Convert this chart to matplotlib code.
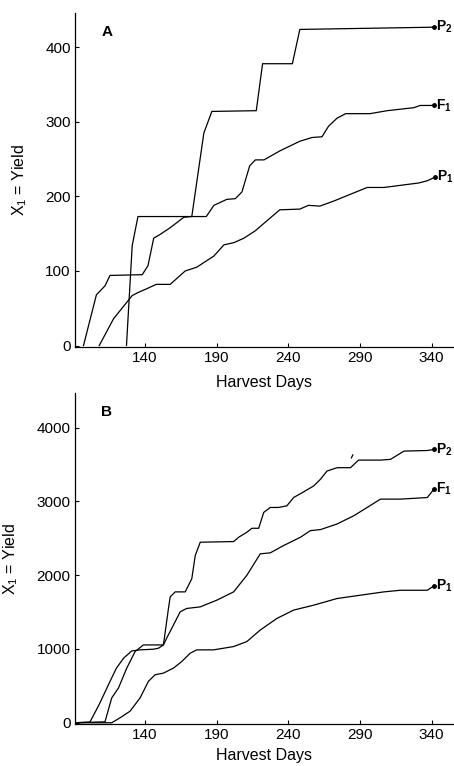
import matplotlib.pyplot as plt
import numpy as np

plt.rcParams['font.family'] = ['Liberation Sans', 'DejaVu Sans']
plt.rcParams['mathtext.fontset'] = 'custom'
plt.rcParams['mathtext.rm'] = 'Liberation Sans'
plt.rcParams['mathtext.bf'] = 'Liberation Sans:bold'

# panel A - yield (X1), harvest days
a_f1_day = [97, 106, 112, 115.5, 138, 142, 146, 150.5, 157.5, 167, 172, 182.7, 188, 197, 203,
            207.6, 213, 217, 223, 234, 248, 256.5, 263.5, 268, 274, 280, 297, 309, 327.6, 332, 341.6]
a_f1_val = [0, 68, 80, 94, 95, 107, 144, 149, 158, 172, 173, 173, 188, 196, 197,
            206, 241, 249, 249, 261, 274, 279, 280, 294, 305, 311, 311, 315, 319, 322, 322]

a_p2_day = [127, 131, 135, 172.6, 181, 186.6, 217.6, 222, 242.8, 248, 341.6]
a_p2_val = [0, 134, 173, 173, 285, 314, 315, 378, 378, 424, 427]

a_p1_day = [108, 118, 131, 135, 141, 147.7, 157.5, 168, 176, 188, 195, 202, 209, 217, 223,
            234, 248, 254, 262, 272, 295, 306.7, 331, 337, 342.5]
a_p1_val = [0, 36, 67, 71, 76, 82, 82, 100, 105, 120, 135, 138, 144, 154, 164,
            182, 183, 188, 187, 194, 212, 212, 218, 221, 226]

# panel B
b_f1_day = [91, 101.5, 108, 115.5, 120, 125, 130.7, 136.5, 145.8, 149.3, 152.8, 155, 159.8, 164.5, 169,
            178.5, 190, 201.8, 211, 220.4, 227.4, 236.7, 248.4, 255.4, 262.4, 274, 285.7, 295,
            304.3, 318.3, 337, 341.6]
b_f1_val = [0, 10, 250, 561, 741, 876, 974, 988, 997, 1010, 1055, 1145, 1325, 1504, 1549,
            1571, 1661, 1774, 1998, 2290, 2303, 2402, 2514, 2604, 2618, 2694, 2806, 2918,
            3031, 3031, 3053, 3165]

b_p2_day = [91, 112, 116.7, 121.4, 127.2, 133, 138.8, 152.8, 156.3, 157.5, 161, 168, 172.6, 175,
            178.5, 201.8, 205.3, 211, 214.6, 219.3, 222.8, 227.4, 233.2, 239, 243.7, 250.7, 257.7,
            262.4, 267, 274, 283.4, 289, 304.3, 311.3, 320.7, 337, 341.6]
b_p2_val = [0, 13, 337, 471, 741, 965, 1055, 1055, 1549, 1706, 1774, 1774, 1953, 2267,
            2447, 2456, 2514, 2582, 2636, 2636, 2851, 2918, 2918, 2941, 3053, 3130, 3210,
            3300, 3412, 3457, 3457, 3560, 3560, 3570, 3682, 3690, 3704]

b_p1_day = [91, 116.7, 122.5, 129.5, 136.5, 142.3, 147, 152.8, 159.8, 165.6, 171.5, 176, 187.8,
            201.8, 211, 220.4, 232, 243.7, 257.7, 274, 290.3, 306.7, 318.3, 337, 341.6]
b_p1_val = [0, 0, 67, 157, 337, 561, 651, 673, 741, 830, 943, 988, 988,
            1033, 1100, 1257, 1414, 1527, 1594, 1684, 1729, 1774, 1796, 1796, 1854]

x_ticks = [140, 190, 240, 290, 340]

fig = plt.figure(figsize=(4.54, 7.66), dpi=100)
axA = fig.add_axes([0.165, 0.547, 0.833, 0.436])
axB = fig.add_axes([0.165, 0.055, 0.833, 0.432])

def style(ax, ylim, yticks, letter, xpad):
    ax.set_xlim(91, 355)
    ax.set_ylim(*ylim)
    ax.set_xticks(x_ticks)
    ax.set_yticks(yticks)
    for s in ['top', 'right']:
        ax.spines[s].set_visible(False)
    for s in ['left', 'bottom']:
        ax.spines[s].set_linewidth(0.9)
    ax.tick_params(direction='in', length=3, width=0.8, labelsize=11, pad=3)
    ax.set_xlabel('Harvest Days', fontsize=11.5, labelpad=xpad)
    ax.set_ylabel(r'X$_1$ = Yield', fontsize=11.5, labelpad=12)
    ax.text(0.07, 0.93, letter, transform=ax.transAxes, fontsize=11, fontweight='bold')

def curve(ax, d, v, lab, dy=0):
    ax.plot(d, v, color='black', lw=0.9)
    ax.plot(d[-1], v[-1], 'o', color='black', ms=2.5)
    ax.annotate(r'$\mathbf{' + lab[0] + '}_{\mathbf{' + lab[1] + '}}$', (d[-1], v[-1]),
                xytext=(1.5, dy), textcoords='offset points', va='center', ha='left',
                fontsize=10, annotation_clip=False)

curve(axA, a_f1_day, a_f1_val, 'F1')
curve(axA, a_p2_day, a_p2_val, 'P2')
curve(axA, a_p1_day, a_p1_val, 'P1')
style(axA, (-2, 446), [0, 100, 200, 300, 400], 'A', 7)

curve(axB, b_f1_day, b_f1_val, 'F1')
curve(axB, b_p2_day, b_p2_val, 'P2')
curve(axB, b_p1_day, b_p1_val, 'P1')
axB.plot([284, 285], [3590, 3630], color='black', lw=0.9)
style(axB, (-15, 4470), [0, 1000, 2000, 3000, 4000], 'B', 4)

fig.savefig('out.png', dpi=100)
